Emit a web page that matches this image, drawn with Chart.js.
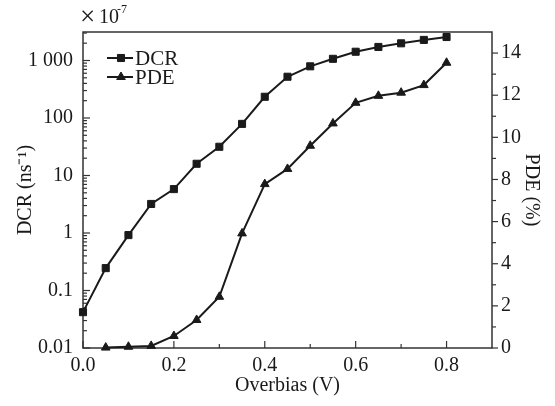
<!DOCTYPE html>
<html>
<head>
<meta charset="utf-8">
<script src="https://cdn.jsdelivr.net/npm/chart.js@4/dist/chart.umd.min.js"></script>
<style>
  body { margin: 0; background: #fff; }
  #wrap { width: 555px; height: 406px; }
</style>
</head>
<body>
<div id="wrap"><canvas id="c" width="555" height="406"></canvas></div>
<script>
// data
const overbias = [0, 0.05, 0.1, 0.15, 0.2, 0.25, 0.3, 0.35, 0.4, 0.45, 0.5, 0.55, 0.6, 0.65, 0.7, 0.75, 0.8];
const dcr = [0.042, 0.245, 0.92, 3.2, 5.8, 16, 31.6, 79, 234, 522, 792, 1070, 1420, 1720, 1990, 2280, 2560];
const pdeBias = [0.05, 0.1, 0.15, 0.2, 0.25, 0.3, 0.35, 0.4, 0.45, 0.5, 0.55, 0.6, 0.65, 0.7, 0.75, 0.8];
const pde = [0.02, 0.06, 0.1, 0.57, 1.33, 2.43, 5.44, 7.78, 8.5, 9.6, 10.66, 11.64, 11.97, 12.12, 12.48, 13.54];

const xTicks = [0, 0.2, 0.4, 0.6, 0.8];
const xMinor = [0.1, 0.3, 0.5, 0.7];
const dcrTicks = [0.01, 0.1, 1, 10, 100, 1000];
const dcrLabels = ['0.01', '0.1', '1', '10', '100', '1 000'];
const pdeTicks = [0, 2, 4, 6, 8, 10, 12, 14];
const pdeMinor = [1, 3, 5, 7, 9, 11, 13];

const FONT = 'Liberation Serif';
const INK = '#1a1a1a';

const frame = {
  id: 'frame',
  beforeDatasetsDraw(chart) {
    const { ctx, chartArea: a, scales } = chart;
    const line = (x1, y1, x2, y2) => { ctx.beginPath(); ctx.moveTo(x1, y1); ctx.lineTo(x2, y2); ctx.stroke(); };
    ctx.save();
    ctx.strokeStyle = '#333';
    ctx.lineWidth = 1.5;
    ctx.strokeRect(a.left, a.top, a.right - a.left, a.bottom - a.top);
    ctx.lineWidth = 1.2;
    // bottom ticks, inward
    xTicks.forEach(v => { const x = scales.x.getPixelForValue(v); line(x, a.bottom, x, a.bottom - 7); });
    xMinor.forEach(v => { const x = scales.x.getPixelForValue(v); line(x, a.bottom, x, a.bottom - 4); });
    // left log ticks, inward
    dcrTicks.forEach(v => { const y = scales.y.getPixelForValue(v); line(a.left, y, a.left + 7, y); });
    for (let d = 0.01; d < 5000; d *= 10) {
      for (let k = 2; k <= 9; k++) {
        const v = k * d;
        if (v > scales.y.max) break;
        const y = scales.y.getPixelForValue(v);
        line(a.left, y, a.left + 4, y);
      }
    }
    // right ticks, outward
    pdeTicks.forEach(v => { const y = scales.y1.getPixelForValue(v); line(a.right, y, a.right + 6, y); });
    pdeMinor.forEach(v => { const y = scales.y1.getPixelForValue(v); line(a.right, y, a.right + 4, y); });
    ctx.restore();
  },
  afterDraw(chart) {
    const { ctx, chartArea: a } = chart;
    ctx.save();
    ctx.fillStyle = INK;
    ctx.strokeStyle = INK;
    // legend
    const items = [['DCR', 'rect', 26], ['PDE', 'triangle', 45]];
    items.forEach(([name, style, dy]) => {
      const y = a.top + dy;
      ctx.lineWidth = 2;
      ctx.beginPath(); ctx.moveTo(a.left + 24, y); ctx.lineTo(a.left + 50, y); ctx.stroke();
      ctx.lineWidth = 1;
      Chart.helpers.drawPoint(ctx, { pointStyle: style, radius: 5, rotation: 0, borderWidth: 1 }, a.left + 38, y);
      ctx.font = '21px "' + FONT + '"';
      ctx.textBaseline = 'middle';
      ctx.textAlign = 'left';
      ctx.fillText(name, a.left + 52, y + 1);
    });
    // multiplier above the axis
    ctx.textBaseline = 'alphabetic';
    ctx.font = '27px "' + FONT + '"';
    ctx.fillText('\u00d7', a.left - 3, 25);
    ctx.font = '20px "' + FONT + '"';
    ctx.fillText('10', a.left + 16, 23);
    ctx.font = '12px "' + FONT + '"';
    ctx.fillText('-7', a.left + 34, 13);
    ctx.restore();
  }
};

const tickFont = { family: FONT, size: 20 };

new Chart(document.getElementById('c'), {
  type: 'line',
  data: {
    datasets: [
      {
        label: 'DCR',
        data: overbias.map((x, i) => ({ x: x, y: dcr[i] })),
        yAxisID: 'y',
        borderColor: INK,
        backgroundColor: INK,
        borderWidth: 2,
        pointStyle: 'rect',
        pointRadius: 5,
        pointBorderWidth: 1,
        tension: 0,
        clip: false
      },
      {
        label: 'PDE',
        data: pdeBias.map((x, i) => ({ x: x, y: pde[i] })),
        yAxisID: 'y1',
        borderColor: INK,
        backgroundColor: INK,
        borderWidth: 2,
        pointStyle: 'triangle',
        pointRadius: 5,
        pointBorderWidth: 1,
        tension: 0,
        clip: false
      }
    ]
  },
  options: {
    responsive: false,
    animation: false,
    layout: { padding: { top: 32, left: 0, right: 0, bottom: 0 } },
    plugins: { legend: { display: false }, tooltip: { enabled: false } },
    scales: {
      x: {
        type: 'linear',
        min: 0,
        max: 0.9,
        grid: { display: false, drawTicks: false },
        border: { display: false },
        afterBuildTicks: s => { s.ticks = xTicks.map(v => ({ value: v })); },
        afterFit: s => { s.height = 58; },
        ticks: { font: tickFont, color: INK, padding: 6, maxRotation: 0, callback: v => v.toFixed(1) },
        title: { display: true, text: 'Overbias (V)', font: tickFont, color: INK, padding: { top: 0, bottom: 8 } }
      },
      y: {
        type: 'logarithmic',
        position: 'left',
        min: 0.01,
        max: 3130,
        grid: { display: false, drawTicks: false },
        border: { display: false },
        afterBuildTicks: s => { s.ticks = dcrTicks.map(v => ({ value: v })); },
        afterFit: s => { s.width = 83; },
        ticks: { font: tickFont, color: INK, padding: 10, callback: (v, i) => dcrLabels[i] },
        title: { display: true, text: 'DCR (ns\u207b\u00b9)', font: tickFont, color: INK, padding: { top: 14, bottom: 0 } }
      },
      y1: {
        type: 'linear',
        position: 'right',
        min: 0,
        max: 15,
        grid: { display: false, drawTicks: false },
        border: { display: false },
        afterBuildTicks: s => { s.ticks = pdeTicks.map(v => ({ value: v })); },
        afterFit: s => { s.width = 63; },
        ticks: { font: tickFont, color: INK, padding: 9 },
        title: { display: true, text: 'PDE (%)', font: tickFont, color: INK, padding: { top: 12, bottom: 0 } }
      }
    }
  },
  plugins: [frame]
});
</script>
</body>
</html>
